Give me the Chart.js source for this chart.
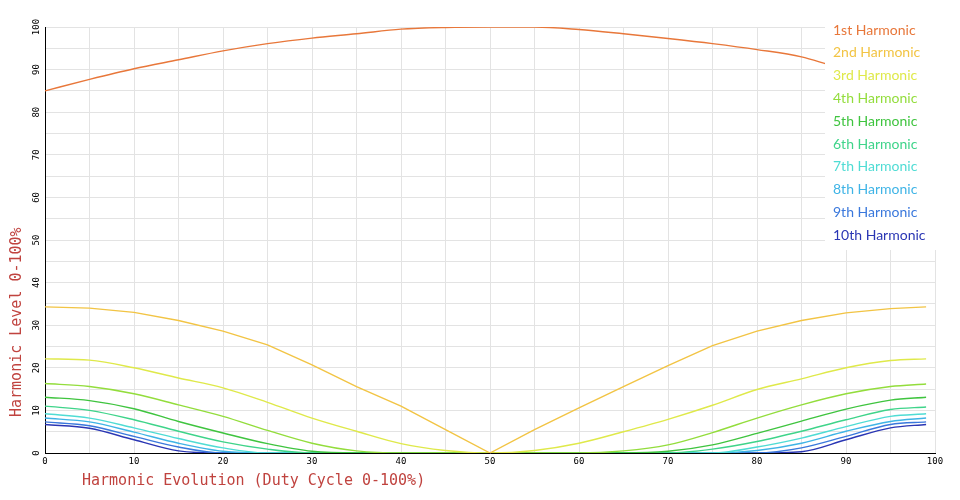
<!DOCTYPE html>
<html>
<head>
<meta charset="utf-8">
<script src="https://cdn.jsdelivr.net/npm/chart.js@4.4.1/dist/chart.umd.min.js"></script>
<style>
  body { margin: 0; background: #fff; }
</style>
</head>
<body>
<canvas id="harmonicsChart" width="960" height="500"></canvas>
<script>
// duty cycle positions (percent) the values were read at
const dutyCycle = [0, 5, 10, 15, 20, 25, 30, 35, 40, 45, 50, 55, 60, 65, 70, 75, 80, 85, 90, 95, 99];
const firstDuty = [0, 5, 10, 15, 20, 25, 30, 35, 40, 45, 50, 55, 60, 65, 70, 75, 80, 85, 88];

const firstHarmonic = [85.0, 87.7, 90.2, 92.3, 94.4, 96.1, 97.4, 98.4, 99.5, 99.9, 100, 100, 99.4, 98.4, 97.3, 96.1, 94.7, 93.0, 91.2];
const secondHarmonic = [34.3, 34.0, 33.0, 31.1, 28.6, 25.4, 20.7, 15.6, 11.0, 5.5, 0, 5.5, 10.6, 15.6, 20.5, 25.2, 28.6, 31.1, 32.9, 33.9, 34.3];
const thirdHarmonic = [22.1, 21.8, 20.0, 17.6, 15.3, 11.9, 8.2, 5.1, 2.2, 0.6, 0, 0.6, 2.3, 5.0, 7.9, 11.2, 14.9, 17.4, 20.0, 21.7, 22.1];
const fourthHarmonic = [16.3, 15.6, 13.9, 11.3, 8.6, 5.3, 2.3, 0.5, 0, 0, 0, 0, 0, 0.5, 1.9, 4.8, 8.2, 11.3, 13.9, 15.6, 16.2];
const fifthHarmonic = [13.1, 12.3, 10.4, 7.4, 4.7, 2.2, 0.4, 0, 0, 0, 0, 0, 0, 0, 0.4, 1.9, 4.6, 7.5, 10.3, 12.4, 13.1];
const sixthHarmonic = [11.0, 10.0, 7.8, 5.1, 2.6, 0.9, 0, 0, 0, 0, 0, 0, 0, 0, 0, 0.9, 2.7, 5.1, 7.8, 10.2, 10.8];
const seventhHarmonic = [9.2, 8.2, 5.9, 3.4, 1.2, 0, 0, 0, 0, 0, 0, 0, 0, 0, 0, 0, 1.4, 3.5, 6.2, 8.6, 9.2];
const eighthHarmonic = [8.2, 7.3, 4.9, 2.3, 0.4, 0, 0, 0, 0, 0, 0, 0, 0, 0, 0, 0, 0.6, 2.3, 5.1, 7.4, 8.2];
const ninthHarmonic = [7.3, 6.4, 3.9, 1.4, 0, 0, 0, 0, 0, 0, 0, 0, 0, 0, 0, 0, 0, 1.2, 3.9, 6.7, 7.3];
const tenthHarmonic = [6.7, 5.8, 3.1, 0.5, 0, 0, 0, 0, 0, 0, 0, 0, 0, 0, 0, 0, 0, 0.3, 3.1, 5.9, 6.7];

const seriesLabels = ['1st Harmonic', '2nd Harmonic', '3rd Harmonic', '4th Harmonic', '5th Harmonic',
  '6th Harmonic', '7th Harmonic', '8th Harmonic', '9th Harmonic', '10th Harmonic'];
const seriesValues = [firstHarmonic, secondHarmonic, thirdHarmonic, fourthHarmonic, fifthHarmonic,
  sixthHarmonic, seventhHarmonic, eighthHarmonic, ninthHarmonic, tenthHarmonic];
const lineColors = ['#e8773a', '#f2c444', '#dfe94a', '#93dd3c', '#3fc43f',
  '#3fd48a', '#4fdcd4', '#3fb4e6', '#3a78dc', '#2a36b4'];

const xTitle = 'Harmonic Evolution (Duty Cycle 0-100%)';
const yTitle = 'Harmonic Level 0-100%';

const datasets = seriesValues.map((values, i) => {
  const xs = i === 0 ? firstDuty : dutyCycle;
  return {
    label: seriesLabels[i],
    data: values.map((v, j) => ({ x: xs[j], y: v })),
    borderColor: lineColors[i],
    borderWidth: 1.4,
    pointRadius: 0,
    // the 2nd harmonic has a sharp V at 50%, keep it straight
    cubicInterpolationMode: i === 1 ? 'default' : 'monotone',
    tension: i === 1 ? 0 : 0.4,
    fill: false
  };
});

// white legend box on the top right plus the two axis titles
const legendAndTitles = {
  id: 'legendAndTitles',
  afterDatasetsDraw(chart) {
    const ctx = chart.ctx;
    const area = chart.chartArea;
    ctx.save();
    ctx.fillStyle = '#fff';
    ctx.fillRect(825, 14, 135, 236);
    ctx.font = '14px Lato';
    ctx.textAlign = 'left';
    ctx.textBaseline = 'middle';
    chart.data.datasets.forEach((ds, i) => {
      ctx.fillStyle = ds.borderColor;
      ctx.fillText(ds.label, 833, 30 + i * 22.8);
    });

    ctx.fillStyle = '#c0433f';
    ctx.font = '15px "DejaVu Sans Mono"';
    ctx.fillText(xTitle, area.left + 37, 481);
    ctx.translate(17, area.bottom - 36);
    ctx.rotate(-Math.PI / 2);
    ctx.fillText(yTitle, 0, 0);
    ctx.restore();
  }
};

const tickFont = { family: 'DejaVu Sans Mono', size: 9 };

new Chart(document.getElementById('harmonicsChart').getContext('2d'), {
  type: 'line',
  data: { datasets: datasets },
  options: {
    responsive: false,
    animation: false,
    devicePixelRatio: 1,
    layout: { padding: { left: 0, top: 27, right: 25, bottom: 0 } },
    plugins: {
      legend: { display: false },
      tooltip: { enabled: false }
    },
    scales: {
      x: {
        type: 'linear',
        min: 0,
        max: 100,
        afterFit: (s) => { s.height = 47; },
        border: { color: '#000', width: 1 },
        grid: { color: '#e3e3e3', drawTicks: false },
        ticks: {
          stepSize: 5,
          padding: 3,
          color: '#000',
          font: tickFont,
          maxRotation: 0,
          autoSkip: false,
          callback: (v) => (v % 10 === 0 ? v : '')
        }
      },
      y: {
        min: 0,
        max: 100,
        afterFit: (s) => { s.width = 45; },
        border: { color: '#000', width: 1 },
        grid: { color: '#e3e3e3', drawTicks: false },
        ticks: {
          stepSize: 5,
          padding: 0,
          color: '#000',
          font: tickFont,
          minRotation: 90,
          maxRotation: 90,
          crossAlign: 'center',
          autoSkip: false,
          callback: (v) => (v % 10 === 0 ? v : '')
        }
      }
    }
  },
  plugins: [legendAndTitles]
});
</script>
</body>
</html>
